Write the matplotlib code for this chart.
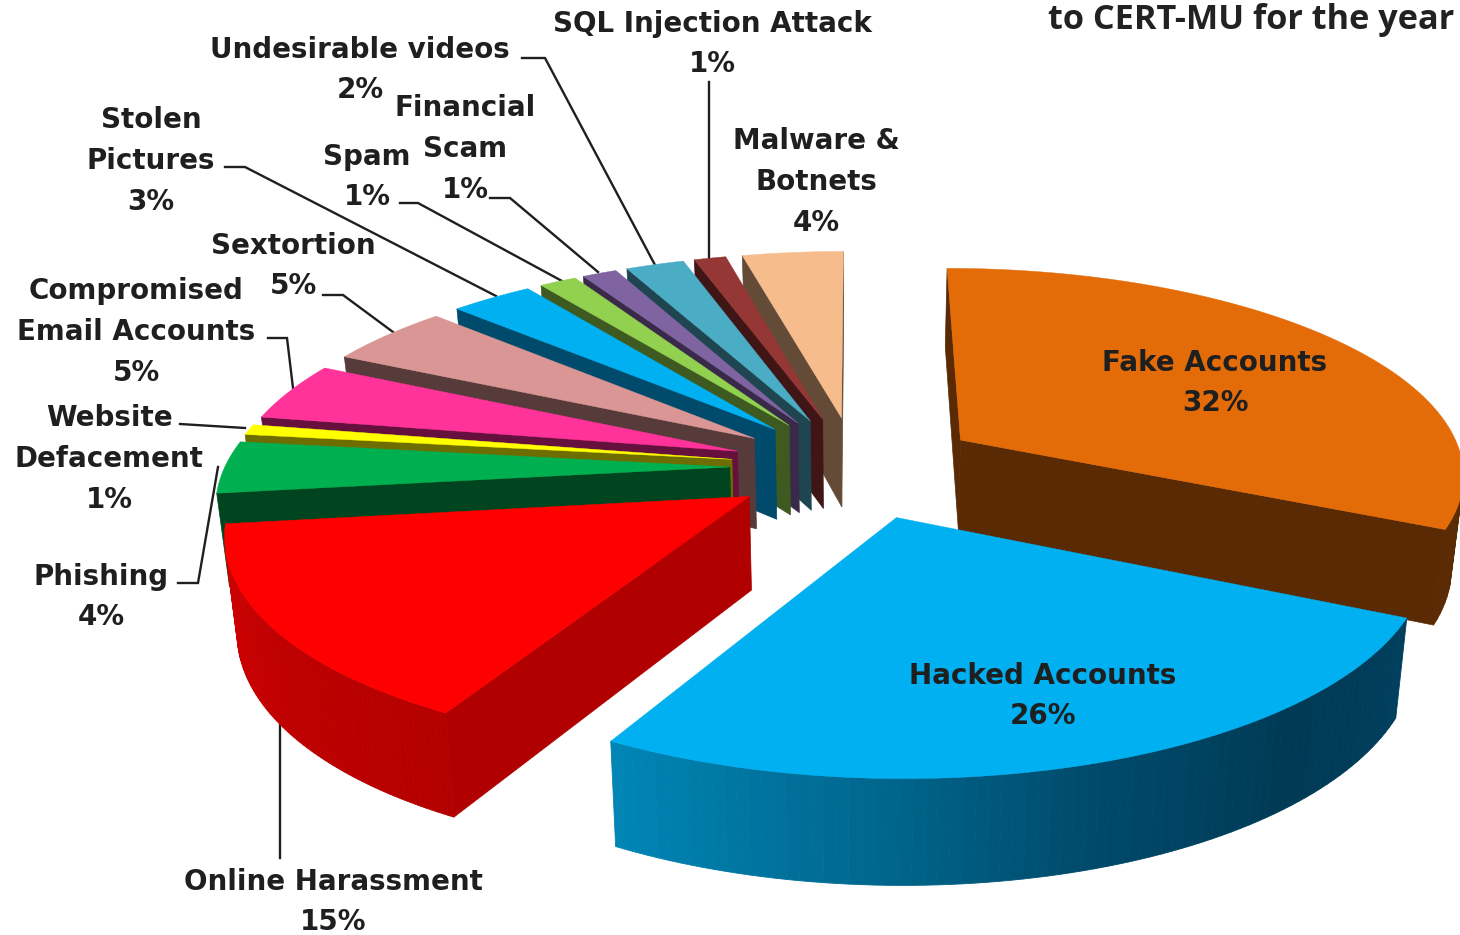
import matplotlib
matplotlib.use('Agg')
import matplotlib.pyplot as plt
from matplotlib.colors import LinearSegmentedColormap
import numpy as np

# %% DATA
names = ['Fake Accounts', 'Hacked Accounts', 'Online Harassment', 'Phishing',
         'Website\nDefacement', 'Compromised\nEmail Accounts', 'Sextortion',
         'Stolen\nPictures', 'Spam', 'Financial\nScam', 'Undesirable videos',
         'SQL Injection Attack', 'Malware &\nBotnets']
percents = [32, 26, 15, 4, 1, 5, 5, 3, 1, 1, 2, 1, 4]  # as printed on the labels
shares = [32, 26, 15, 4, 0.8, 4.5, 4.7, 3.1, 1.4, 1.3, 2.2, 1.2, 3.8]  # as drawn, read from the slice edges
top_colors = ['#E36C09', '#00B0F0', '#FF0000', '#00B050', '#FFFF00', '#FF3399', '#D99694',
              '#00B0F0', '#92D050', '#8064A2', '#4BACC6', '#953735', '#F6BC8C']
side_colors = ['#5A2A04', '#00405F', '#B00000', '#00451F', '#6E6E00', '#66103D', '#573A3A',
               '#004A6B', '#3E5A20', '#3A2A4A', '#1F4650', '#401515', '#644B38']
label_x = [1215, 1043, 333, 101, 109, 136, 293, 151, 367, 465, 360, 712, 816]
label_y = [381, 694, 900, 595, 457, 330, 264, 159, 175, 147, 68, 42, 180]
title = 'to CERT-MU for the year'

# leader lines, label side to slice
leaders = [[(522, 58), (545, 58), (655, 265)],
           [(709, 82), (709, 258)],
           [(490, 198), (510, 198), (598, 272)],
           [(400, 203), (418, 203), (562, 281)],
           [(225, 167), (245, 167), (496, 296)],
           [(323, 295), (343, 295), (393, 332)],
           [(268, 338), (287, 338), (293, 388)],
           [(180, 424), (245, 428)],
           [(178, 583), (198, 583), (218, 467)],
           [(280, 725), (280, 858)]]

# %% PROJECTION
cx, cy = 856, 467
rx, ry = 505, 205
persp = 0.15
explode = 0.25
depth = 92


def project(U, V):
    s = 1 / (1 - persp * V)
    return cx + rx * U * s, cy + ry * V * s


def lower(U, V):
    # same point on the underside of the slice
    x, y = project(U, V)
    return cx + (x - cx) * 0.98, y + depth * (1 + 0.13 * V)


def area(pts):
    p = np.array(pts)
    return 0.5 * np.sum(p[:, 0] * np.roll(p[:, 1], -1) - np.roll(p[:, 0], -1) * p[:, 1])


fig = plt.figure(figsize=(14.6, 9.35), dpi=100)
ax = fig.add_axes([0, 0, 1, 1])
ax.set_xlim(0, 1460)
ax.set_ylim(935, 0)
ax.axis('off')

wall_maps = {1: LinearSegmentedColormap.from_list('h', ['#003F5E', '#003A55', '#004A6B', '#006A92', '#0085B5']),
             2: LinearSegmentedColormap.from_list('o', ['#B40000', '#C00000', '#D40000'])}

edges = np.cumsum([0] + shares) * 3.6

for line in leaders:
    ax.plot(*zip(*line), color='#1f1f1f', lw=1.7, solid_joinstyle='miter', zorder=0)

# back slices first, the order decides who covers who
order = [12, 11, 10, 9, 8, 7, 6, 5, 4, 3, 2, 0, 1]
for i in order:
    t0, t1 = np.radians(edges[i]), np.radians(edges[i + 1])
    mid = (t0 + t1) / 2
    ox, oy = explode * np.sin(mid), -explode * np.cos(mid)
    th = np.linspace(t0, t1, 80)
    U = ox + np.sin(th)
    V = oy - np.cos(th)

    # cut faces
    for k, sign in ((0, -1), (-1, 1)):
        face = [project(ox, oy), project(U[k], V[k]), lower(U[k], V[k]), lower(ox, oy)]
        if area(face) * sign > 0:
            ax.fill(*zip(*face), color=side_colors[i], lw=0.5)

    # outer wall
    for j in range(len(th) - 1):
        quad = [project(U[j], V[j]), project(U[j + 1], V[j + 1]), lower(U[j + 1], V[j + 1]), lower(U[j], V[j])]
        if area(quad) < 0:
            c = wall_maps[i](j / (len(th) - 2)) if i in wall_maps else side_colors[i]
            ax.fill(*zip(*quad), color=c, lw=0.6)

    # top
    top = [project(ox, oy)] + [project(a, b) for a, b in zip(U, V)]
    ax.fill(*zip(*top), color=top_colors[i], lw=0.3)

# one text per line, the lines of neighbouring labels interlock
for name, v, x, y in zip(names, percents, label_x, label_y):
    rows = f'{name}\n{v}%'.split('\n')
    for j, row in enumerate(rows):
        ax.text(x, y + (j - (len(rows) - 1) / 2) * 40.8 + 10, row, ha='center', va='baseline', fontsize=20,
                family='DejaVu Sans', weight='bold', color='#1f1f1f')

ax.text(1048, 20, title, ha='left', va='center', fontsize=24.7, family='Open Sans', weight='bold',
        color='#222222')

fig.savefig('out.png', dpi=100)
